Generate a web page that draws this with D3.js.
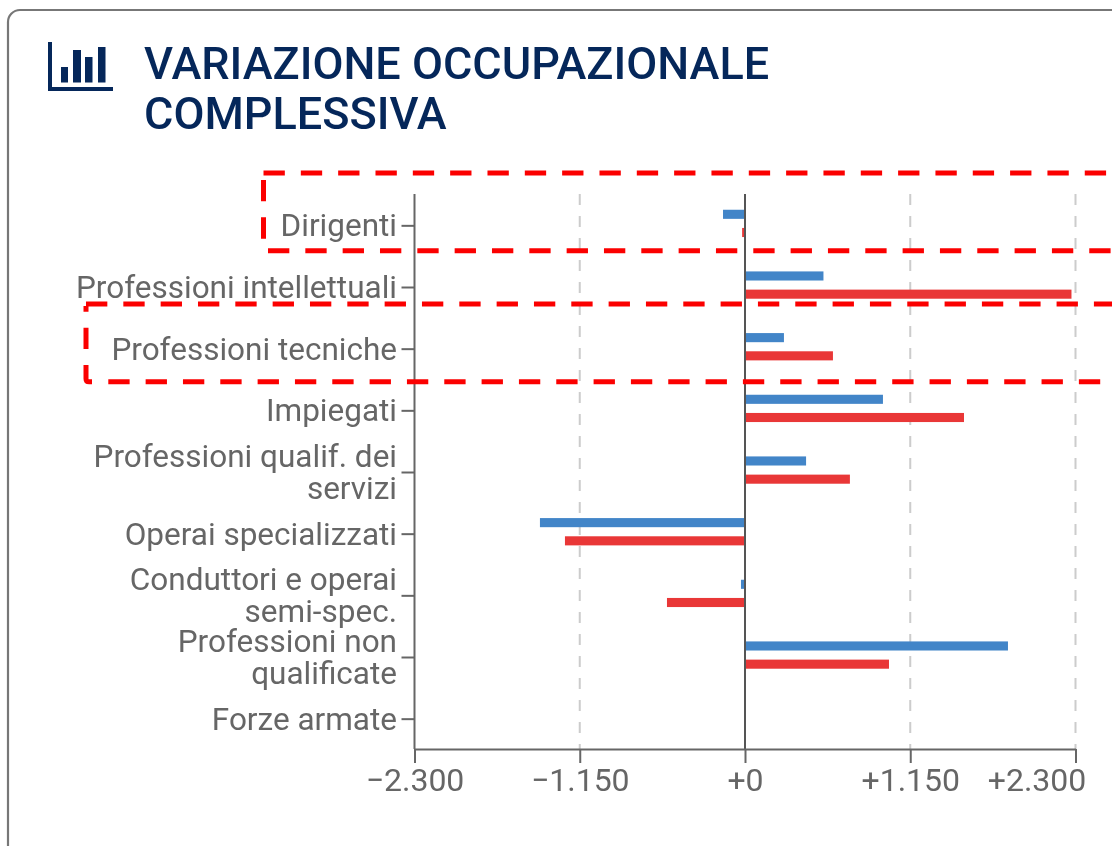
<!DOCTYPE html>
<html><head><meta charset="utf-8">
<script src="https://cdn.jsdelivr.net/npm/d3@7"></script>
<style>
html,body{margin:0;padding:0;background:#fff;overflow:hidden}
svg{display:block;font-family:Roboto,sans-serif;filter:blur(.4px)}
</style></head><body>
<svg id="c" width="1112" height="846"></svg>
<script>
const categories=[["Dirigenti"],["Professioni intellettuali"],["Professioni tecniche"],["Impiegati"],["Professioni qualif. dei","servizi"],["Operai specializzati"],["Conduttori e operai","semi-spec."],["Professioni non","qualificate"],["Forze armate"]];
const seriesBlue=[-153,546,271,960,425,-1427,-28,1830,0];
const seriesRed=[-20,2272,612,1524,730,-1253,-543,1002,0];
const xTicks=[-2300,-1150,0,1150,2300];
const titleLines=["VARIAZIONE OCCUPAZIONALE","COMPLESSIVA"];
const fmtN=d3.format(",");
const label=d=>(d<0?"\u2212":"+")+fmtN(Math.abs(d)).replace(/,/g,".");

const svg=d3.select("#c");
const G="#666";
svg.append("rect").attr("x",8).attr("y",10).attr("width",1200).attr("height",950).attr("rx",12)
  .attr("fill","#fff").attr("stroke","#777").attr("stroke-width",2.2);

// icon
const ic=svg.append("g").attr("fill","#05275a");
ic.append("path").attr("d","M48 42h4v45h61v4H48z");
[[61,67,7],[73,50,8],[85,57,7.5],[98,47,7.5]].forEach(b=>ic.append("rect").attr("x",b[0]).attr("y",b[1]).attr("width",b[2]).attr("height",82.5-b[1]));

svg.append("g").selectAll("text").data(titleLines).join("text")
  .attr("x",144).attr("y",(d,i)=>78.5+i*50).attr("fill","#05275a")
  .attr("font-size",45).attr("font-weight",500).text(d=>d);

const x=d3.scaleLinear().domain([-2300,2300]).range([414.5,1075.5]);
const names=categories.map(c=>c.join(" "));
const y=d3.scaleBand().domain(names).range([195,750]);
const sub=d3.scaleBand().domain(["b","r"]).range([10.2,46.6]).paddingInner(.5).paddingOuter(.25);

// grid
svg.append("g").selectAll("line").data(xTicks.filter(d=>d!==0&&d!==-2300)).join("line")
  .attr("x1",d=>x(d)).attr("x2",d=>x(d)).attr("y1",194).attr("y2",749)
  .attr("stroke","#ccc").attr("stroke-width",2).attr("stroke-dasharray","11 11");

// bars
const rows=names.map((n,i)=>({n,b:seriesBlue[i],r:seriesRed[i]}));
[["b","#4285c8"],["r","#e93737"]].forEach(([k,col])=>{
  svg.append("g").selectAll("rect").data(rows.filter(d=>d[k]!==0)).join("rect")
   .attr("x",d=>x(Math.min(0,d[k]))).attr("width",d=>Math.abs(x(d[k])-x(0)))
   .attr("y",d=>y(d.n)+sub(k)).attr("height",sub.bandwidth()).attr("fill",col);
});

// zero line
svg.append("line").attr("x1",x(0)).attr("x2",x(0)).attr("y1",194).attr("y2",749).attr("stroke","#555").attr("stroke-width",2);

// y axis
const ya=svg.append("g").attr("transform","translate(414.5,0)").call(d3.axisLeft(y).tickSize(13).tickFormat(""));
ya.selectAll("path,line").attr("stroke",G).attr("stroke-width",2);
ya.select(".domain").attr("d","M0,194V749");
categories.forEach((lines,i)=>{
  const cy=y(names[i])+y.bandwidth()/2+10.5;
  lines.forEach((t,j)=>svg.append("text").attr("x",397).attr("text-anchor","end").attr("fill",G)
    .attr("font-size",31.5).attr("y",cy+(j-(lines.length-1)/2)*32).text(t));
});

// x axis
const xa=svg.append("g").attr("transform","translate(0,749)").call(d3.axisBottom(x).tickValues(xTicks).tickSize(14).tickSizeOuter(0).tickFormat(label));
xa.selectAll("path,line").attr("stroke",G).attr("stroke-width",2);
xa.selectAll("text").attr("fill",G).attr("font-size",32).attr("font-family","Roboto,sans-serif").attr("y",41.7).attr("dy",0)
  .attr("dx",d=>d===2300?-39:0);

// highlights
["M263.5,173H1130","M263.5,180V240","M268,250.7H1130","M86,304H1130","M92,381.7H89Q86,381.7 86,378.7V306","M108.3,381.7H1130"].forEach(d=>{
  svg.append("path").attr("d",d).attr("fill","none").attr("stroke","#fb0000")
   .attr("stroke-width",5).attr("stroke-dasharray","21.33 16");
});
</script></body></html>
